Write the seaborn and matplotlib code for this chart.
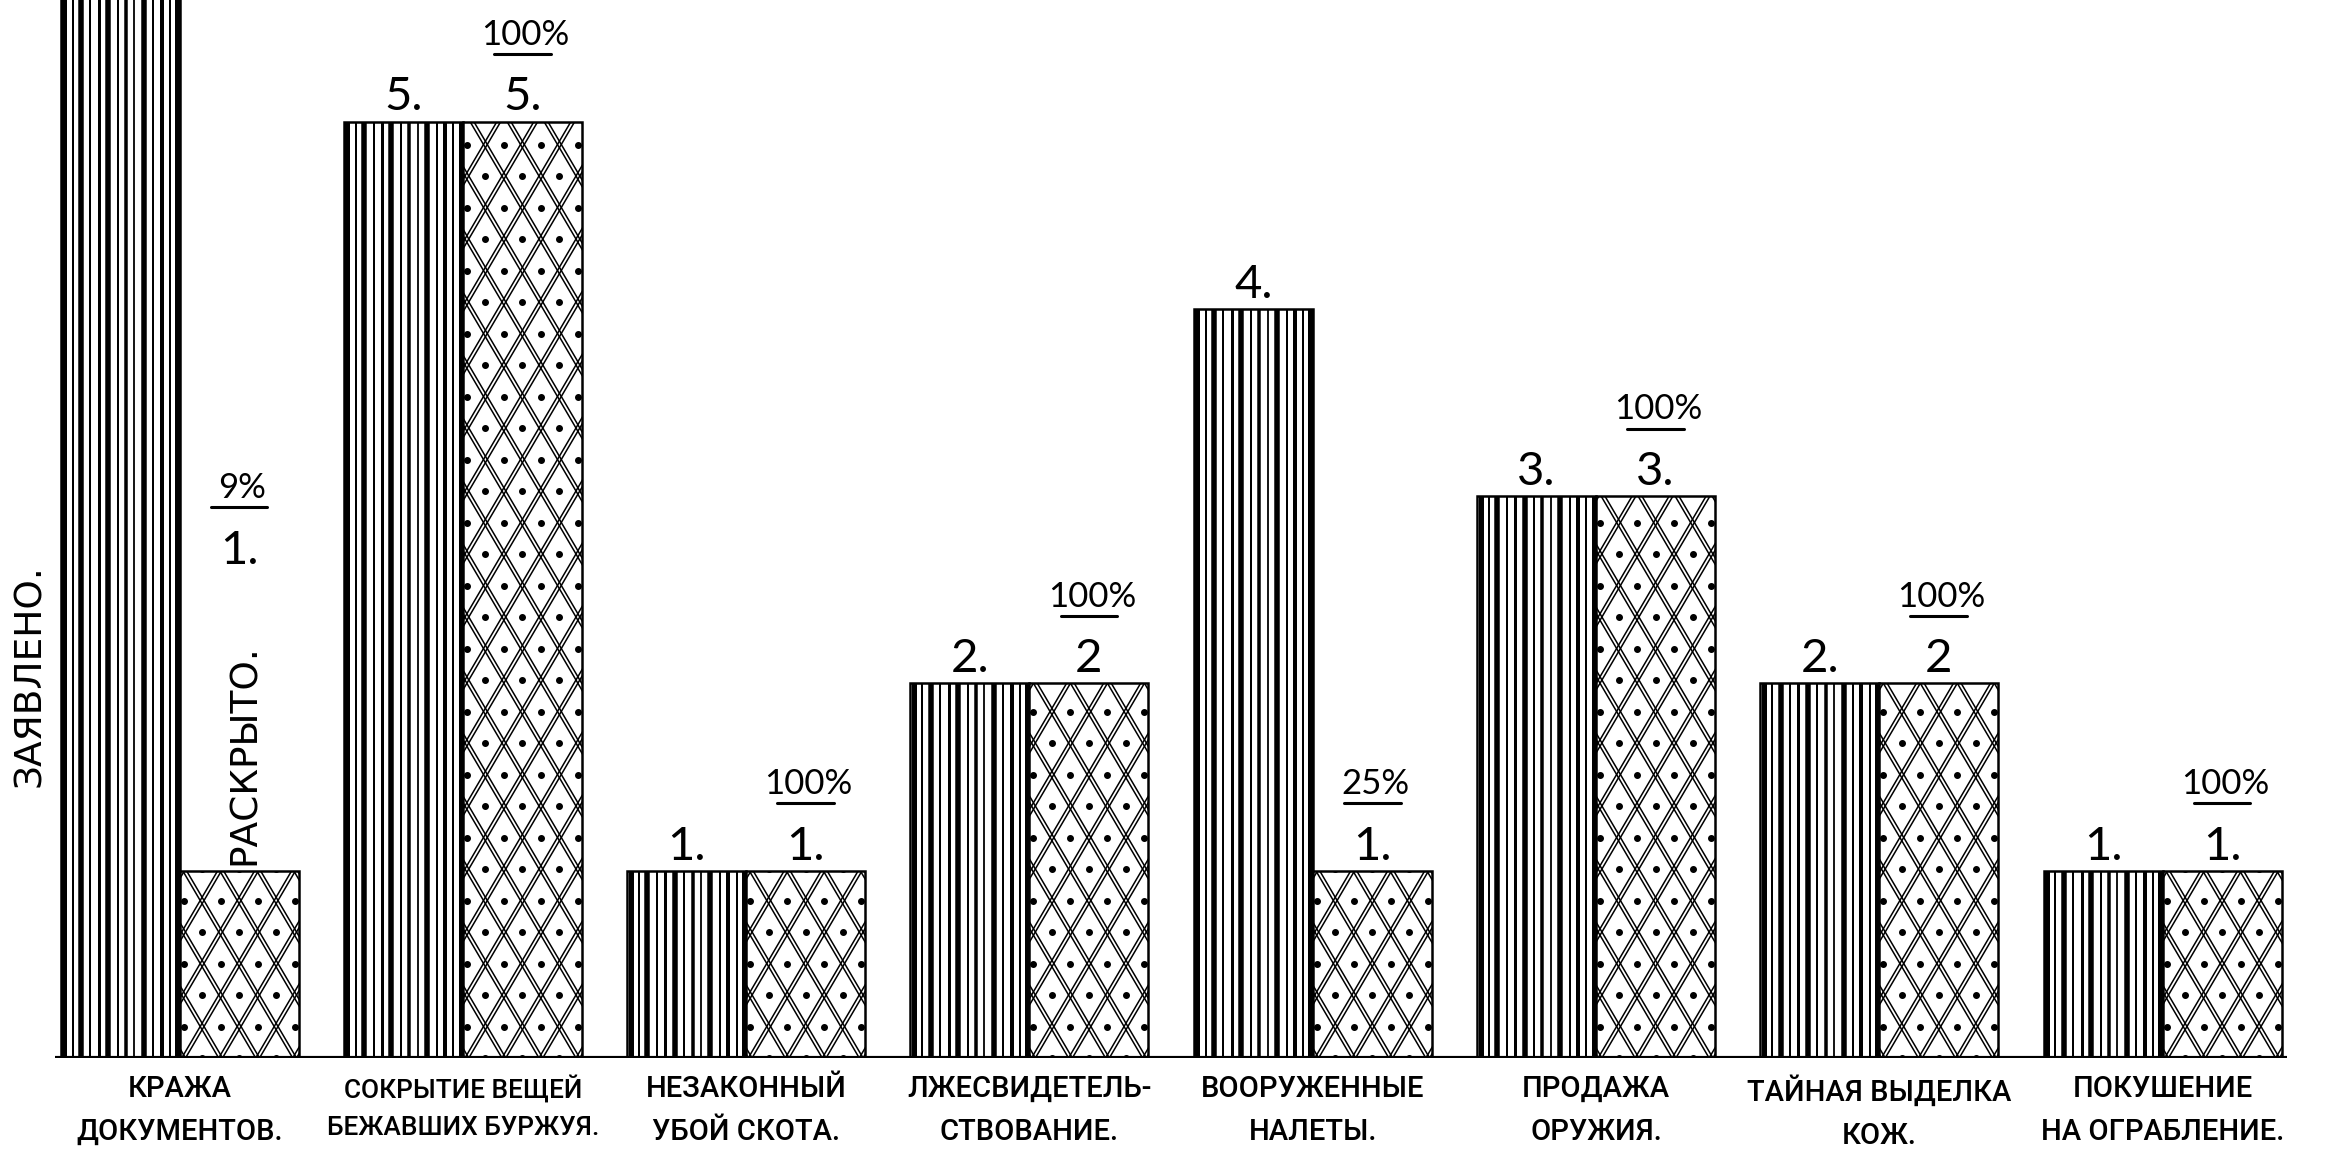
import math
import matplotlib
matplotlib.use('Agg')
import matplotlib.pyplot as plt
from matplotlib.collections import LineCollection
from matplotlib.transforms import IdentityTransform
import seaborn as sns
import pandas as pd

# Data
categories = [
    'КРАЖА\nДОКУМЕНТОВ.',
    'СОКРЫТИЕ ВЕЩЕЙ\nБЕЖАВШИХ БУРЖУЯ.',
    'НЕЗАКОННЫЙ\nУБОЙ СКОТА.',
    'ЛЖЕСВИДЕТЕЛЬ-\nСТВОВАНИЕ.',
    'ВООРУЖЕННЫЕ\nНАЛЕТЫ.',
    'ПРОДАЖА\nОРУЖИЯ.',
    'ТАЙНАЯ ВЫДЕЛКА\nКОЖ.',
    'ПОКУШЕНИЕ\nНА ОГРАБЛЕНИЕ.',
]
series = ['ЗАЯВЛЕНО.', 'РАСКРЫТО.']
declared = [11, 5, 1, 2, 4, 3, 2, 1]
solved = [1, 5, 1, 2, 1, 3, 2, 1]
declared_labels = ['11.', '5.', '1.', '2.', '4.', '3.', '2.', '1.']
solved_labels = ['1.', '5.', '1.', '2', '1.', '3.', '2', '1.']
percent_labels = ['9%', '100%', '100%', '100%', '25%', '100%', '100%', '100%']

DPI = 100
BAR_W = 0.84
Y_TOP = 5.65

# hatch styles (pixels)
STRIPES = [(0.03, 5.0), (0.10, 2.0), (0.17, 5.5), (0.25, 2.0), (0.32, 3.0),
           (0.40, 5.5), (0.48, 2.0), (0.55, 3.5), (0.62, 1.8), (0.70, 5.5),
           (0.78, 2.0), (0.85, 4.0), (0.92, 2.0), (0.98, 5.0)]
DIAMOND_W = 37.0
DIAMOND_H = 63.0
DOUBLE_GAP = 6.5


def stripe_bar(ax, patch, renderer):
    bb = patch.get_window_extent(renderer)
    segs = [[(bb.x0 + f * bb.width, bb.y0), (bb.x0 + f * bb.width, bb.y1)] for f, _ in STRIPES]
    lws = [w * 72 / DPI for _, w in STRIPES]
    lc = LineCollection(segs, linewidths=lws, colors='black', transform=IdentityTransform())
    ax.add_collection(lc, autolim=False)
    lc.set_clip_path(patch.get_path(), patch.get_transform())


def diamond_bar(ax, patch, renderer):
    bb = patch.get_window_extent(renderer)
    x0, y0, w, h = bb.x0 + 4, bb.y0, bb.width, bb.height
    s = DIAMOND_H / DIAMOND_W
    segs = []
    kmin = int(math.floor(-s * w / DIAMOND_H)) - 2
    kmax = int(math.ceil((h + s * w) / DIAMOND_H)) + 2
    for k in range(kmin, kmax):
        for off in (-DOUBLE_GAP / 2, DOUBLE_GAP / 2):
            c = k * DIAMOND_H + off
            segs.append([(x0 - 10, y0 + c - s * 10), (x0 + w + 10, y0 + c + s * (w + 10))])
            segs.append([(x0 - 10, y0 + c + s * 10), (x0 + w + 10, y0 + c - s * (w + 10))])
    lc = LineCollection(segs, linewidths=1.1, colors='black', transform=IdentityTransform())
    ax.add_collection(lc, autolim=False)
    lc.set_clip_path(patch.get_path(), patch.get_transform())
    xs, ys = [], []
    for k in range(kmin, kmax):
        for m in range(kmin, kmax):
            px = x0 + (m - k) * DIAMOND_W / 2
            py = y0 + (k + m + 1) * DIAMOND_H / 2
            if bb.x0 - 5 < px < bb.x1 + 5 and bb.y0 - 5 < py < bb.y1 + 5:
                xs.append(px)
                ys.append(py)
    dots, = ax.plot(xs, ys, 'o', color='black', markersize=4, linestyle='none',
                    transform=IdentityTransform())
    dots.set_clip_path(patch.get_path(), patch.get_transform())


def main():
    sns.set_theme(style='white')
    plt.rcParams['font.family'] = ['DejaVu Sans']

    df = pd.DataFrame({
        'cat': categories * 2,
        'series': [series[0]] * len(categories) + [series[1]] * len(categories),
        'value': declared + solved,
    })

    fig = plt.figure(figsize=(23.3, 11.64), dpi=DPI)
    fig.patch.set_facecolor('white')
    ax = fig.add_axes([0, 106 / 1164, 1, 1058 / 1164])

    sns.barplot(data=df, x='cat', y='value', hue='series', order=categories,
                hue_order=series, palette=['white', 'white'], saturation=1,
                width=BAR_W, edgecolor='black', linewidth=1.8, errorbar=None,
                legend=False, ax=ax)

    n = len(categories)
    ax.set_xlim(-0.634, 7.591)
    ax.set_ylim(0, Y_TOP)
    for side in ax.spines.values():
        side.set_visible(False)
    ax.set_yticks([])
    ax.set_xlabel('')
    ax.set_ylabel('')
    ax.set_facecolor('white')
    ax.tick_params(axis='x', length=0, pad=12, colors='black')
    for lab in ax.get_xticklabels():
        lab.set_fontfamily(['Roboto', 'DejaVu Sans'])
        lab.set_fontsize(21)
        lab.set_fontweight('medium')
        lab.set_linespacing(1.7)
        lab.set_multialignment('center')

    # baseline
    ax.hlines(0, -BAR_W / 2 - 0.02, n - 1 + BAR_W / 2 + 0.02, color='black', linewidth=3,
              zorder=5)

    fig.canvas.draw()
    renderer = fig.canvas.get_renderer()

    # fit category labels within the group width
    for lab in ax.get_xticklabels():
        wd = lab.get_window_extent(renderer).width
        if wd > 272:
            lab.set_fontsize(21 * 272 / wd)

    bars = ax.patches[:2 * n]
    for i, patch in enumerate(bars):
        if i < n:
            stripe_bar(ax, patch, renderer)
        else:
            diamond_bar(ax, patch, renderer)

    num_font = dict(family=['Lato', 'DejaVu Sans'], color='black')
    half = BAR_W / 4
    for i in range(n):
        xd = i - half
        xs = i + half
        if declared[i] + 0.3 < Y_TOP:
            ax.text(xd, declared[i] + 0.06, declared_labels[i], ha='center', va='baseline',
                    fontsize=34, **num_font)
        base = solved[i]
        if i == 0:
            ax.text(xs + 0.02, base + 0.03, series[1], rotation=90, ha='center', va='bottom',
                    fontsize=27, color='black')
            base = base + 1.58
        ax.text(xs, base + 0.06, solved_labels[i], ha='center', va='baseline',
                fontsize=34, **num_font)
        ax.plot([xs - 0.1, xs + 0.1], [base + 0.36, base + 0.36], color='black',
                linewidth=2.2, solid_capstyle='round')
        ax.text(xs + 0.01, base + 0.41, percent_labels[i], ha='center', va='baseline',
                fontsize=25, **num_font)

    ax.text(-0.528, 2.04, series[0], rotation=90, ha='center', va='center',
            fontsize=27, color='black')

    fig.savefig('out.png', dpi=DPI, facecolor='white')
    plt.close(fig)


if __name__ == '__main__':
    main()
